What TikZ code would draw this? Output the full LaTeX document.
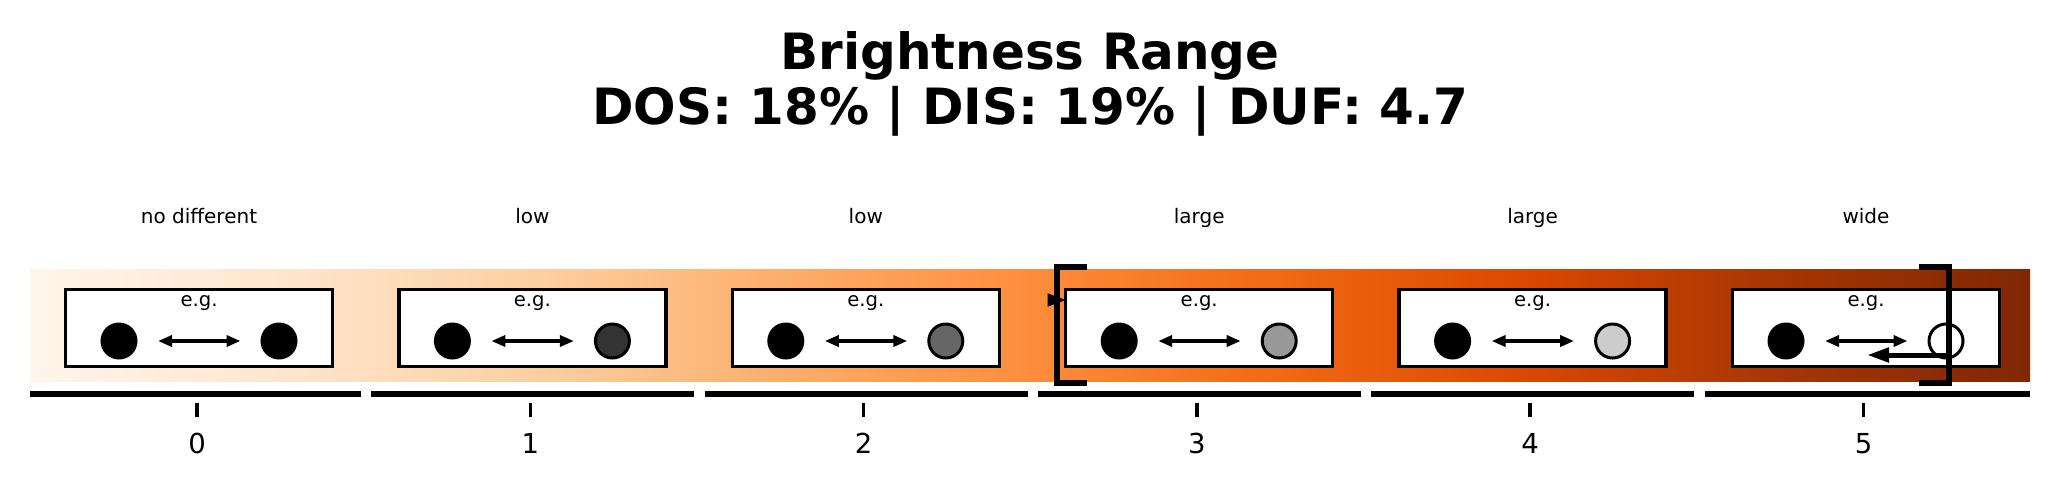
\documentclass[tikz,border=0pt]{standalone}
\usepackage{fontspec}
\setmainfont{DejaVu Sans}
\usetikzlibrary{arrows.meta}
\definecolor{o0}{HTML}{FFF5EB}
\definecolor{o1}{HTML}{FEE6CE}
\definecolor{o2}{HTML}{FDD0A2}
\definecolor{o3}{HTML}{FDAE6B}
\definecolor{o4}{HTML}{FD8D3C}
\definecolor{o5}{HTML}{F16913}
\definecolor{o6}{HTML}{D94801}
\definecolor{o7}{HTML}{A63603}
\definecolor{o8}{HTML}{7F2704}
\definecolor{g1}{HTML}{333333}
\definecolor{g2}{HTML}{666666}
\definecolor{g3}{HTML}{999999}
\definecolor{g4}{HTML}{CCCCCC}
\begin{document}
\begin{tikzpicture}[x=1pt,y=-1pt,
  panel/.style={draw=black,line width=3.3pt,fill=white,minimum width=267pt,minimum height=77pt,inner sep=0pt,outer sep=0pt},
  dot/.style={circle,draw=black,line width=3pt,minimum size=34pt,inner sep=0pt,outer sep=0pt},
  dbl/.style={line width=4pt,{Triangle[length=14pt,width=11pt]}-{Triangle[length=14pt,width=11pt]}},
  lab/.style={anchor=base,font=\fontsize{20}{24}\selectfont,inner sep=0pt},
  eg/.style={anchor=base,font=\fontsize{19.6}{24}\selectfont,inner sep=0pt},
  num/.style={anchor=base,font=\fontsize{27.5}{32}\selectfont,inner sep=0pt},
  ttl/.style={anchor=base,font=\fontsize{50}{55}\selectfont\bfseries,inner sep=0pt},
  spine/.style={line width=6pt},
  tickmark/.style={line width=3.5pt},
  brk/.style={line width=6pt,miter limit=10}
]
\useasboundingbox (0,0) rectangle (2060,488);
% gradient bar
\shade[left color=o0,right color=o1] (30,269) rectangle (281,381);
\shade[left color=o1,right color=o2] (280,269) rectangle (531,381);
\shade[left color=o2,right color=o3] (530,269) rectangle (781,381);
\shade[left color=o3,right color=o4] (780,269) rectangle (1031,381);
\shade[left color=o4,right color=o5] (1030,269) rectangle (1281,381);
\shade[left color=o5,right color=o6] (1280,269) rectangle (1531,381);
\shade[left color=o6,right color=o7] (1530,269) rectangle (1781,381);
\shade[left color=o7,right color=o8] (1780,269) rectangle (2030,381);
% title
\node[ttl] (t1) at (1030,69.3) {Brightness Range};
\node[ttl] (t2) at (1030,124.3) {DOS: 18\% | DIS: 19\% | DUF: 4.7};
% panels
\foreach \k/\f/\t in {0/black/no different,1/g1/low,2/g2/low,3/g3/large,4/g4/large,5/white/wide}{
  \pgfmathsetmacro\cx{199+333.4*\k}
  \pgfmathsetmacro\tx{197+333.3*\k}
  \pgfmathsetmacro\xs{\k==0 ? 30 : 30+333.33*\k+8}
  \pgfmathsetmacro\xe{\k==5 ? 2030 : 30+333.33*(\k+1)-2.5}
  \node[panel] (box\k) at (\cx,328) {};
  \node[eg] (eg\k) at (\cx,306) {e.g.};
  \node[dot,fill=black] (l\k) at (\cx-80,341) {};
  \node[dot,fill=\f] (r\k) at (\cx+80,341) {};
  \draw[dbl,shorten <=22pt,shorten >=21.5pt] (l\k) -- (r\k);
  \node[lab] (lab\k) at (\cx,223) {\t};
  \draw[spine] (\xs,394) -- (\xe,394);
  \draw[tickmark] (\tx,403) -- (\tx,417);
  \node[num] (n\k) at (\tx,453) {\k};
}
% bracket at 3
\draw[brk] (1087,267) -- (1057,267) -- (1057,382.5) -- (1087,382.5);
\coordinate (p3) at (1048,300);
\draw[line width=1pt,-{Triangle[length=18pt,width=13pt]}] (p3) -- (p3 -| box3.west);
% bracket at 5
\draw[brk] (1919,267) -- (1949,267) -- (1949,382.5) -- (1919,382.5);
\coordinate (p5) at (1949,355);
\coordinate (q5) at (1867,355);
\draw[line width=5pt,-{Triangle[length=22pt,width=14pt]}] (p5) -- (q5);
\end{tikzpicture}
\end{document}
